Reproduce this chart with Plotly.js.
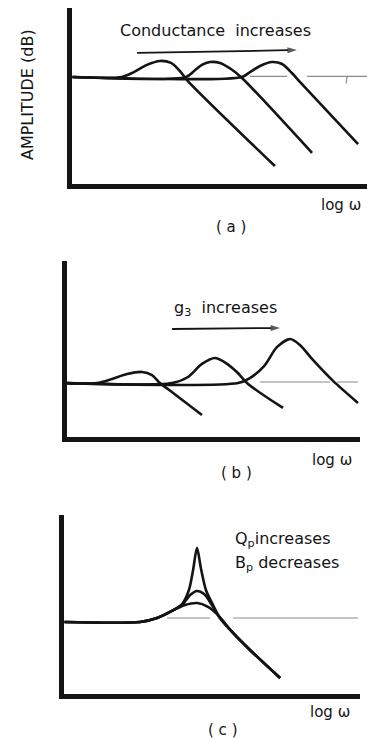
<!DOCTYPE html>
<html>
<head>
<meta charset="utf-8">
<script src="https://cdn.plot.ly/plotly-3.0.1.min.js"></script>
<style>html,body{margin:0;padding:0;background:#fff;}#chart{width:367px;height:740px;}</style>
</head>
<body>
<div id="chart"></div>
<script>
// ---- Panel (a): conductance increases (log ω vs amplitude, arbitrary units) ----
const a1X = [0, 1.75, 2.15, 2.59, 3.03, 3.40, 3.70, 3.97, 6.90];
const a1Y = [6.15, 6.15, 6.42, 6.82, 7.04, 6.93, 6.48, 5.92, 1.17];
const a2X = [0, 3.91, 4.18, 4.44, 4.71, 5.05, 5.42, 5.79, 8.15];
const a2Y = [6.15, 6.15, 6.48, 6.82, 6.98, 6.93, 6.59, 6.09, 1.90];
const a3X = [0, 5.79, 6.06, 6.40, 6.80, 7.14, 7.47, 7.74, 9.70];
const a3Y = [6.15, 6.15, 6.42, 6.76, 6.98, 6.87, 6.37, 5.87, 2.40];
const aRefX = [6.06, 7.31, null, 7.98, 10.2, null, 9.33, 9.30];
const aRefY = [6.18, 6.18, null, 6.18, 6.18, null, 6.18, 5.78];
const aArrowX = [2.26, 7.64];
const aArrowY = [7.49, 7.65];

// ---- Panel (b): g3 increases ----
const b1X = [0, 1.11, 1.62, 2.13, 2.64, 2.97, 3.24, 3.51, 4.66];
const b1Y = [3.18, 3.18, 3.41, 3.69, 3.80, 3.63, 3.18, 2.85, 1.40];
const b2X = [0, 3.65, 4.19, 4.66, 5.10, 5.47, 5.84, 6.22, 7.40];
const b2Y = [3.18, 3.18, 3.52, 4.25, 4.58, 4.30, 3.80, 3.13, 1.79];
const b3X = [0, 5.88, 6.28, 6.76, 7.20, 7.64, 7.97, 8.41, 9.09, 9.93];
const b3Y = [3.18, 3.18, 3.46, 4.13, 5.20, 5.64, 5.31, 4.47, 3.30, 2.07];
const bRefX = [6.62, 8.99, null, 9.22, 9.93];
const bRefY = [3.24, 3.24, null, 3.24, 3.24];
const bArrowX = [3.65, 7.30];
const bArrowY = [6.20, 6.26];

// ---- Panel (c): Qp increases, Bp decreases ----
const c1X = [0, 2.62, 3.19, 3.69, 4.13, 4.53, 4.90, 5.23, 5.74, 6.31, 7.32];
const c1Y = [4.12, 4.12, 4.34, 4.73, 5.05, 5.16, 4.95, 4.51, 3.52, 2.58, 1.04];
const c2X = [0, 2.62, 3.19, 3.69, 4.06, 4.30, 4.53, 4.77, 5.03, 5.30, 5.74, 6.31, 7.32];
const c2Y = [4.12, 4.12, 4.34, 4.73, 5.11, 5.60, 5.82, 5.66, 5.05, 4.34, 3.52, 2.58, 1.04];
const c3X = [0, 2.62, 3.19, 3.69, 4.03, 4.26, 4.40, 4.53, 4.66, 4.83, 5.07, 5.30, 5.74, 6.31, 7.32];
const c3Y = [4.12, 4.12, 4.34, 4.73, 5.11, 5.88, 6.98, 8.19, 7.09, 5.88, 5.05, 4.34, 3.52, 2.58, 1.04];
const cRefX = [3.52, 4.97, null, 5.74, 9.93];
const cRefY = [4.34, 4.34, null, 4.34, 4.34];

// ---- Text labels ----
const yTitle = 'AMPLITUDE (dB)';
const xLabel = 'log ω';
const panelLabels = ['( a )', '( b )', '( c )'];
const noteA = 'Conductance  increases';
const noteB = 'g<sub>3</sub>  increases';
const noteC1 = 'Q<sub>p</sub>increases';
const noteC2 = 'B<sub>p</sub> decreases';

const INK = '#141414';
const GREY = '#8a8a8a';
const FONT = 'DejaVu Sans, sans-serif';

function curve(x, y, xa, ya) {
  return {x: x, y: y, xaxis: xa, yaxis: ya, type: 'scatter', mode: 'lines',
    line: {color: INK, width: 2.6, shape: 'spline', smoothing: 0.8},
    hoverinfo: 'skip', showlegend: false, cliponaxis: true};
}
function refLine(x, y, xa, ya) {
  return {x: x, y: y, xaxis: xa, yaxis: ya, type: 'scatter', mode: 'lines',
    line: {color: GREY, width: 1.2}, connectgaps: false,
    hoverinfo: 'skip', showlegend: false};
}
function arrowLine(x, y, xa, ya) {
  return {x: x, y: y, xaxis: xa, yaxis: ya, type: 'scatter', mode: 'lines+markers',
    line: {color: INK, width: 1.8},
    marker: {symbol: 'arrow', size: [0, 10], color: INK, angleref: 'previous', line: {width: 0}},
    hoverinfo: 'skip', showlegend: false, cliponaxis: false};
}

const data = [
  refLine(aRefX, aRefY, 'x', 'y'),
  curve(a1X, a1Y, 'x', 'y'), curve(a2X, a2Y, 'x', 'y'), curve(a3X, a3Y, 'x', 'y'),
  arrowLine(aArrowX, aArrowY, 'x', 'y'),
  refLine(bRefX, bRefY, 'x2', 'y2'),
  curve(b1X, b1Y, 'x2', 'y2'), curve(b2X, b2Y, 'x2', 'y2'), curve(b3X, b3Y, 'x2', 'y2'),
  arrowLine(bArrowX, bArrowY, 'x2', 'y2'),
  refLine(cRefX, cRefY, 'x3', 'y3'),
  curve(c1X, c1Y, 'x3', 'y3'), curve(c2X, c2Y, 'x3', 'y3'), curve(c3X, c3Y, 'x3', 'y3')
];

function axis(domain, range, anchor) {
  return {domain: domain, range: range, anchor: anchor,
    showline: true, linecolor: INK, linewidth: 5,
    showgrid: false, zeroline: false, showticklabels: false, ticks: '',
    fixedrange: true};
}

const txt = (size) => ({family: FONT, size: size, color: INK});

const annotations = [
  // panel (a)
  {xref: 'paper', yref: 'paper', x: 0.0736, y: 0.8716, text: yTitle, textangle: -90, showarrow: false,
   font: txt(16), xanchor: 'center', yanchor: 'middle'},
  {xref: 'x', yref: 'y', x: 4.90, y: 8.72, text: noteA, showarrow: false, font: txt(16)},
  {xref: 'paper', yref: 'paper', x: 0.9292, y: 0.7230, text: xLabel, showarrow: false, font: txt(15),
   xanchor: 'center', yanchor: 'middle'},
  {xref: 'paper', yref: 'paper', x: 0.6294, y: 0.6932, text: panelLabels[0], showarrow: false, font: txt(15),
   xanchor: 'center', yanchor: 'middle'},
  // panel (b)
  {xref: 'x2', yref: 'y2', x: 5.46, y: 7.32, text: noteB, showarrow: false, font: txt(16)},
  {xref: 'paper', yref: 'paper', x: 0.9046, y: 0.3784, text: xLabel, showarrow: false, font: txt(15),
   xanchor: 'center', yanchor: 'middle'},
  {xref: 'paper', yref: 'paper', x: 0.6431, y: 0.3608, text: panelLabels[1], showarrow: false, font: txt(15),
   xanchor: 'center', yanchor: 'middle'},
  // panel (c)
  {xref: 'x3', yref: 'y3', x: 5.74, y: 8.63, text: noteC1, showarrow: false, font: txt(16), xanchor: 'left'},
  {xref: 'x3', yref: 'y3', x: 5.74, y: 7.36, text: noteC2, showarrow: false, font: txt(16), xanchor: 'left'},
  {xref: 'paper', yref: 'paper', x: 0.8992, y: 0.0378, text: xLabel, showarrow: false, font: txt(15),
   xanchor: 'center', yanchor: 'middle'},
  {xref: 'paper', yref: 'paper', x: 0.6076, y: 0.0135, text: panelLabels[2], showarrow: false, font: txt(15),
   xanchor: 'center', yanchor: 'middle'}
];

const layout = {
  width: 367, height: 740,
  margin: {l: 0, r: 0, t: 0, b: 0, pad: 0},
  paper_bgcolor: '#ffffff', plot_bgcolor: '#ffffff',
  showlegend: false,
  xaxis: axis([0.1975, 1.0], [0.084, 10], 'y'),
  yaxis: axis([0.7507, 0.9892], [0.14, 10], 'x'),
  xaxis2: axis([0.1812, 0.9809], [0.084, 10], 'y2'),
  yaxis2: axis([0.4088, 0.6473], [0.14, 10], 'x2'),
  xaxis3: axis([0.1757, 0.9809], [0.084, 10], 'y3'),
  yaxis3: axis([0.0615, 0.3041], [0.137, 10], 'x3'),
  annotations: annotations,
  font: {family: FONT, color: INK}
};

Plotly.newPlot('chart', data, layout, {displayModeBar: false, staticPlot: true}).then(function (gd) {
  // drop empty placeholder text nodes (unused axis titles)
  gd.querySelectorAll('text').forEach(function (t) {
    if (!t.textContent || !t.textContent.trim()) t.remove();
  });
});
</script>
</body>
</html>
